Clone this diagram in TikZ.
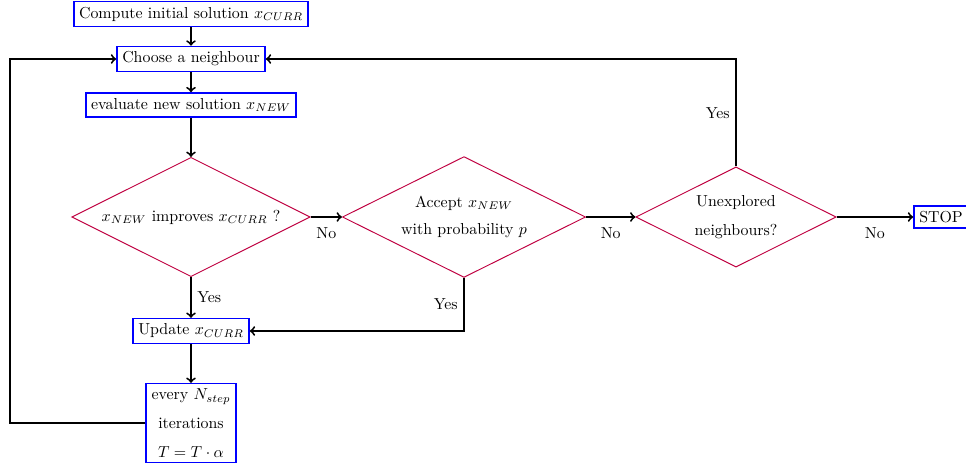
\documentclass[tikz,border=0pt]{standalone}
\usepackage{amsmath}
\usepackage{amssymb}
\usepackage{tikz}
\usetikzlibrary{shapes.geometric}

\tikzset{
  block/.style={draw=blue,line width=1pt,rectangle,align=center},
  decision/.style={draw=purple,semithick,diamond,aspect=2,inner sep=1pt,align=center},
  line/.style={draw,very thick,->}
}

\begin{document}
\begin{tikzpicture}[x=0.629pt,y=-0.629pt]
  \useasboundingbox (0,0) rectangle (966,466);

  % boxes and tests
  \node[block] (init) at (191,14) {Compute initial solution $x_{CURR}$};
  \node[block] (choose) at (191,59) {Choose a neighbour};
  \node[block] (eval) at (191,105) {evaluate new solution $x_{NEW}$};
  \node[decision,minimum width=150pt,minimum height=75pt] (improve) at (191,217)
    {$x_{NEW}$ improves $x_{CURR}$ ?};
  \node[decision,minimum width=153pt,minimum height=76pt] (accept) at (464,217)
    {Accept $x_{NEW}$\\[5pt] with probability $p$};
  \node[decision,minimum width=126pt,minimum height=63pt] (unexpl) at (736,217)
    {Unexplored\\[6pt] neighbours?};
  \node[block] (stop) at (941,217) {STOP};
  \node[block] (update) at (191,331) {Update $x_{CURR}$};
  \node[block] (every) at (191,423)
    {every $N_{step}$\\[6pt] iterations\\[6pt] $T = T \cdot \alpha$};
  \coordinate (loop) at (10,423);

  % connectors
  \draw[line] (init) -- (choose);
  \draw[line] (choose) -- (eval);
  \draw[line] (eval) -- (improve);
  \draw[line] (improve) -- node[right] {Yes} (update);
  \draw[line] (improve) -- node[below=3pt] {No} (accept);
  \draw[line] (accept) -- node[below=3pt] {No} (unexpl);
  \draw[line] (unexpl) -- node[below=3pt] {No} (stop);
  \draw[line] (accept.south) |- node[left,pos=0.25] {Yes} (update.east);
  \draw[line] (unexpl.north) |- node[left,pos=0.25] {Yes} (choose.east);
  \draw[line] (update) -- (every);
  \draw[line] (every.west) -- (loop) |- (choose.west);
\end{tikzpicture}
\end{document}
